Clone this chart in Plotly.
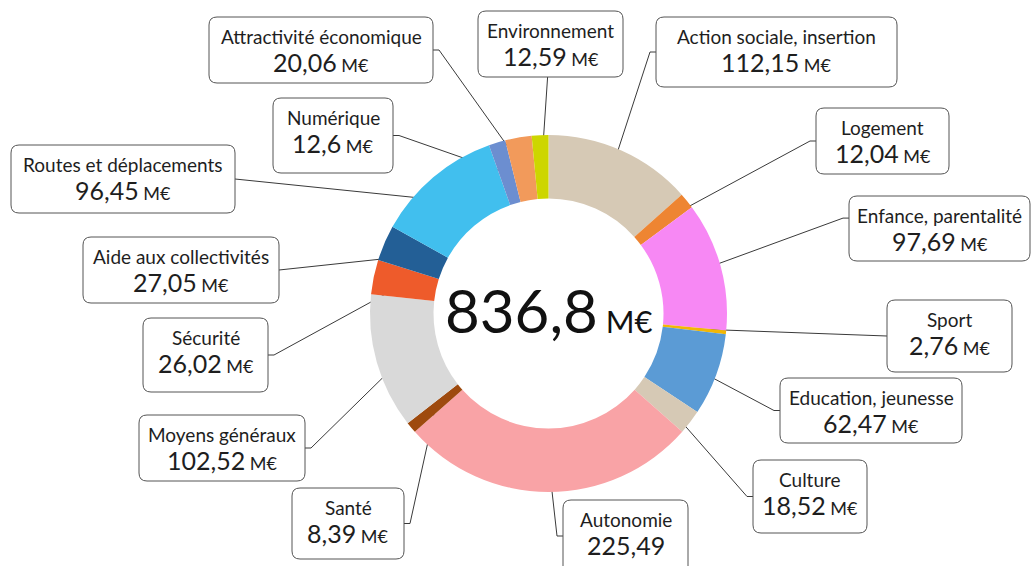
import math
import plotly.graph_objects as go

# ---- data ----
categories = [
    "Action sociale, insertion", "Logement", "Enfance, parentalité", "Sport",
    "Education, jeunesse", "Culture", "Autonomie", "Santé", "Moyens généraux",
    "Sécurité", "Aide aux collectivités", "Routes et déplacements", "Numérique",
    "Attractivité économique", "Environnement",
]
values = [112.15, 12.04, 97.69, 2.76, 62.47, 18.52, 225.49, 8.39, 102.52,
          26.02, 27.05, 96.45, 12.6, 20.06, 12.59]
show_unit = [True, True, True, True, True, True, False, True, True,
             True, True, True, True, True, True]
unit = "M€"

# ---- styles ----
colors = ["#D6C9B5", "#EE8532", "#F788F4", "#F2B705", "#5B9BD5", "#D6C9B5",
          "#F9A3A6", "#9E4A0E", "#D9D9D9", "#EE5B2B", "#235F96", "#41BFEE",
          "#6C8ED0", "#F29A5B", "#CDD600"]

W, H = 1031, 566
CX, CY = 548.5, 313.5          # pie centre (px)
R_OUT, R_IN = 178.5, 115.0     # radii (px)
FONT = "Lato, 'Open Sans', sans-serif"
TXT = "#1e1e1e"

# label box layout (px): x0, y0, x1, y1, side, attach fraction along side
boxes = [
    (656, 17, 897, 87, "l", 0.5),
    (816, 108, 949, 174, "l", 0.5),
    (849, 196, 1030, 261, "l", 0.34),
    (887, 300, 1012, 372, "l", 0.5),
    (780, 378, 962, 443, "l", 0.5),
    (753, 460, 867, 533, "l", 0.5),
    (563, 500, 688, 600, "l", 0.36),
    (292, 488, 404, 559, "r", 0.5),
    (139, 415, 305, 481, "r", 0.5),
    (143, 318, 268, 392, "r", 0.5),
    (83, 237, 279, 303, "r", 0.5),
    (11, 145, 235, 213, "r", 0.5),
    (273, 98, 393, 173, "r", 0.5),
    (209, 17, 433, 83, "r", 0.5),
    (478, 11, 623, 77, "b", 0.48),
]


def fmt(v):
    s = f"{v:.2f}".rstrip("0").rstrip(".")
    return s.replace(".", ",")


def rounded_rect(x0, y0, x1, y1, r=8):
    return (f"M{x0+r},{y0} L{x1-r},{y0} Q{x1},{y0} {x1},{y0+r} "
            f"L{x1},{y1-r} Q{x1},{y1} {x1-r},{y1} L{x0+r},{y1} "
            f"Q{x0},{y1} {x0},{y1-r} L{x0},{y0+r} Q{x0},{y0} {x0+r},{y0} Z")


total = sum(values)

fig = go.Figure()
fig.add_trace(go.Pie(
    labels=categories, values=values, sort=False, direction="clockwise",
    rotation=0, hole=R_IN / R_OUT, textinfo="none", hoverinfo="label+value",
    marker=dict(colors=colors, line=dict(width=0)),
    domain=dict(x=[(CX - R_OUT) / W, (CX + R_OUT) / W],
                y=[(H - CY - R_OUT) / H, (H - CY + R_OUT) / H]),
    showlegend=False,
))

shapes = []
annotations = []
cum = 0.0
r_mid = (R_IN + R_OUT) / 2
for name, v, u, (x0, y0, x1, y1, side, f) in zip(categories, values, show_unit, boxes):
    ang = 2 * math.pi * (cum + v / 2) / total
    cum += v
    ax = CX + r_mid * math.sin(ang)
    ay = CY - r_mid * math.cos(ang)
    stub = 6
    if side == "l":
        px, py = x0, y0 + f * (y1 - y0)
        ex, ey = px - stub, py
    elif side == "r":
        px, py = x1, y0 + f * (y1 - y0)
        ex, ey = px + stub, py
    else:
        px, py = x0 + f * (x1 - x0), y1
        ex, ey = px, py + stub
    fig.add_trace(go.Scatter(
        x=[ax, ex, px], y=[ay, ey, py], mode="lines",
        line=dict(color="#3a3a3a", width=1), hoverinfo="skip",
        showlegend=False, xaxis="x", yaxis="y"))
    shapes.append(dict(type="path", path=rounded_rect(x0, y0, x1, y1),
                       xref="x", yref="y", line=dict(color="#555555", width=1),
                       fillcolor="white", layer="above"))
    xc = (x0 + x1) / 2
    annotations.append(dict(x=xc, y=y0 + 19, xref="x", yref="y", text=name,
                            showarrow=False, font=dict(family=FONT, size=19, color=TXT),
                            xanchor="center", yanchor="middle"))
    vtxt = fmt(v)
    if u:
        vtxt += f"<span style='font-size:18px'> {unit}</span>"
    annotations.append(dict(x=xc, y=y0 + 45, xref="x", yref="y", text=vtxt,
                            showarrow=False, font=dict(family=FONT, size=25, color=TXT),
                            xanchor="center", yanchor="middle"))

annotations.append(dict(
    x=CX, y=CY - 4, xref="x", yref="y",
    text=f"{fmt(round(total, 1))}<span style='font-size:31px'> {unit}</span>",
    showarrow=False, font=dict(family=FONT, size=60, color="#111111"),
    xanchor="center", yanchor="middle"))

fig.update_layout(
    width=W, height=H, autosize=False,
    margin=dict(l=0, r=0, t=0, b=0),
    paper_bgcolor="white", plot_bgcolor="rgba(0,0,0,0)",
    xaxis=dict(range=[0, W], visible=False, fixedrange=True),
    yaxis=dict(range=[H, 0], visible=False, fixedrange=True),
    shapes=shapes, annotations=annotations, showlegend=False,
)

fig.write_html(
    "out.html",
    config={"displayModeBar": False},
    post_script="document.body.style.margin='0';document.body.style.overflow='hidden';",
)
